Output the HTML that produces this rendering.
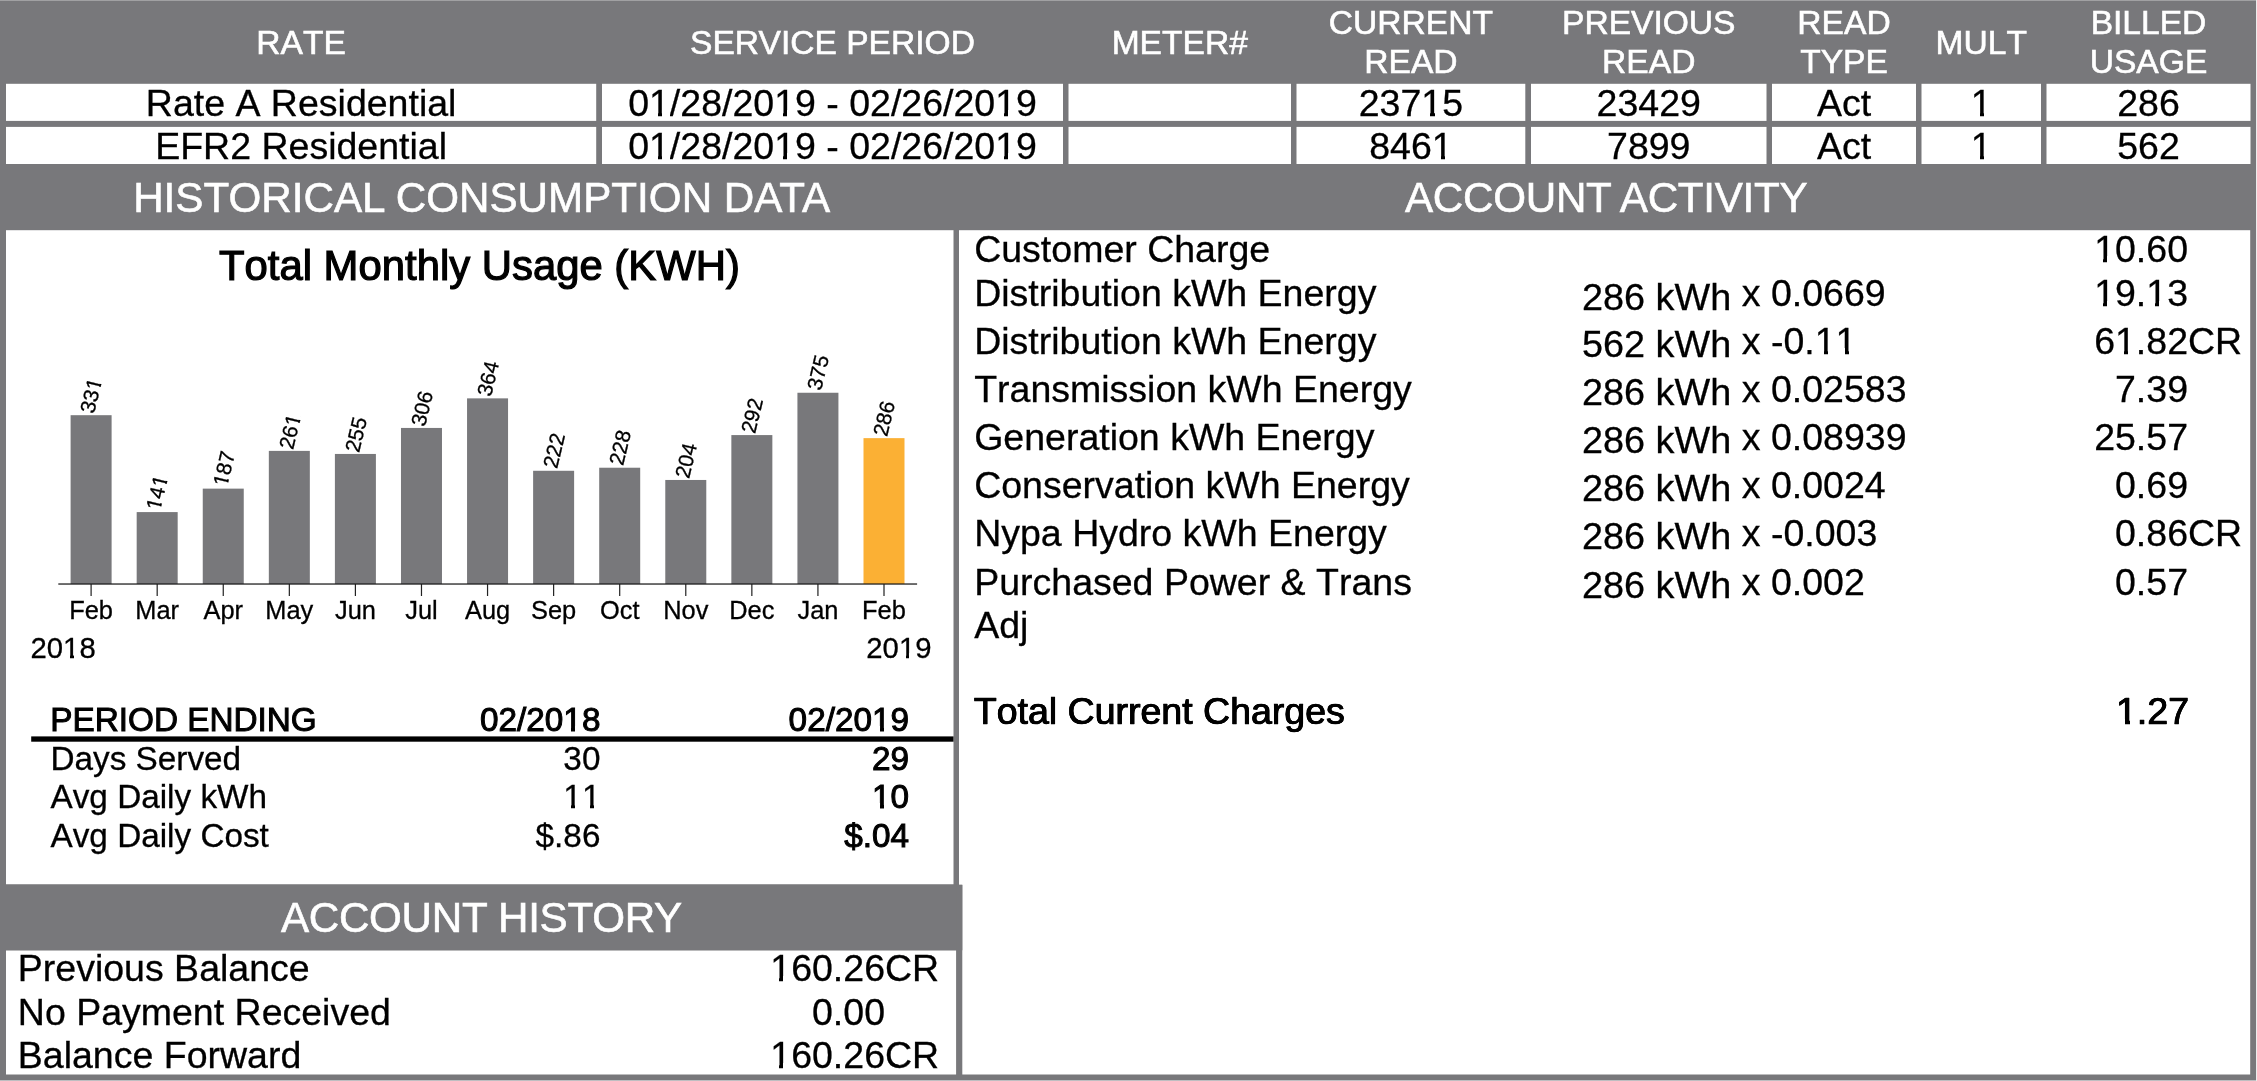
<!DOCTYPE html>
<html><head><meta charset="utf-8"><title>Bill</title><style>
html,body{margin:0;padding:0;}
html{overflow:hidden;width:2257px;height:1081px;}
body{width:2257px;height:1081px;background:#78787b;position:relative;overflow:hidden;
 font-family:"Liberation Sans",sans-serif;color:#000;}
.b{position:absolute;background:#fff;}
.t{position:absolute;white-space:nowrap;line-height:1;-webkit-text-stroke:0.3px #000;font-kerning:none;}
#wrap{position:absolute;left:0;top:0;width:2257px;height:1081px;will-change:transform;overflow:hidden;}
.o{position:relative;}
.o::before,.o::after{content:"";position:absolute;top:0.765em;height:0.195em;background:#fff;}
.o::before{left:0.01em;width:calc(0.2415em - var(--sw,0.45px));}
.o::after{left:calc(0.340em + var(--sw,0.45px));right:0;}
.c{text-align:center;}
.r{text-align:right;}
.w{color:#fff;-webkit-text-stroke:0.6px #fff;font-kerning:normal;}
.hk{font-kerning:none;}
.sb{-webkit-text-stroke:1.0px #000;--sw:0.6px;}
.sb2{--sw:0.85px;-webkit-text-stroke:0.7px #000;text-shadow:0.4px 0 #000,-0.4px 0 #000;font-kerning:none;}
.tb{-webkit-text-stroke:1.2px #000;font-kerning:none;}
</style></head>
<body><div id="wrap">
<svg style="position:absolute;left:0;top:0" width="2257" height="1081" viewBox="0 0 2257 1081"><rect x="6" y="83.8" width="590.2" height="37.1" fill="#fff"/>
<rect x="6" y="126.9" width="590.2" height="37.1" fill="#fff"/>
<rect x="602" y="83.8" width="461" height="37.1" fill="#fff"/>
<rect x="602" y="126.9" width="461" height="37.1" fill="#fff"/>
<rect x="1068.5" y="83.8" width="222.5" height="37.1" fill="#fff"/>
<rect x="1068.5" y="126.9" width="222.5" height="37.1" fill="#fff"/>
<rect x="1296.5" y="83.8" width="228.8" height="37.1" fill="#fff"/>
<rect x="1296.5" y="126.9" width="228.8" height="37.1" fill="#fff"/>
<rect x="1531" y="83.8" width="235.5" height="37.1" fill="#fff"/>
<rect x="1531" y="126.9" width="235.5" height="37.1" fill="#fff"/>
<rect x="1772" y="83.8" width="144" height="37.1" fill="#fff"/>
<rect x="1772" y="126.9" width="144" height="37.1" fill="#fff"/>
<rect x="1921.5" y="83.8" width="119.5" height="37.1" fill="#fff"/>
<rect x="1921.5" y="126.9" width="119.5" height="37.1" fill="#fff"/>
<rect x="2046.5" y="83.8" width="204.0" height="37.1" fill="#fff"/>
<rect x="2046.5" y="126.9" width="204.0" height="37.1" fill="#fff"/>
<rect x="6" y="230.2" width="947.5" height="654.1" fill="#fff"/>
<rect x="959" y="230.2" width="1291.2" height="844.3" fill="#fff"/>
<rect x="6" y="950.3" width="950.3" height="124.2" fill="#fff"/>
<rect x="0" y="884.8" width="962.3" height="65.5" fill="#78787b"/>
<rect x="956.3" y="884.8" width="6.0" height="190.2" fill="#78787b"/>
<rect x="70.60" y="415.19" width="41.0" height="168.81" fill="#78787b"/>
<rect x="90.50" y="584" width="1.2" height="12" fill="#222"/>
<rect x="136.68" y="512.09" width="41.0" height="71.91" fill="#78787b"/>
<rect x="156.58" y="584" width="1.2" height="12" fill="#222"/>
<rect x="202.75" y="488.63" width="41.0" height="95.37" fill="#78787b"/>
<rect x="222.65" y="584" width="1.2" height="12" fill="#222"/>
<rect x="268.83" y="450.89" width="41.0" height="133.11" fill="#78787b"/>
<rect x="288.73" y="584" width="1.2" height="12" fill="#222"/>
<rect x="334.90" y="453.95" width="41.0" height="130.05" fill="#78787b"/>
<rect x="354.80" y="584" width="1.2" height="12" fill="#222"/>
<rect x="400.98" y="427.94" width="41.0" height="156.06" fill="#78787b"/>
<rect x="420.88" y="584" width="1.2" height="12" fill="#222"/>
<rect x="467.05" y="398.36" width="41.0" height="185.64" fill="#78787b"/>
<rect x="486.95" y="584" width="1.2" height="12" fill="#222"/>
<rect x="533.12" y="470.78" width="41.0" height="113.22" fill="#78787b"/>
<rect x="553.02" y="584" width="1.2" height="12" fill="#222"/>
<rect x="599.20" y="467.72" width="41.0" height="116.28" fill="#78787b"/>
<rect x="619.10" y="584" width="1.2" height="12" fill="#222"/>
<rect x="665.28" y="479.96" width="41.0" height="104.04" fill="#78787b"/>
<rect x="685.18" y="584" width="1.2" height="12" fill="#222"/>
<rect x="731.35" y="435.08" width="41.0" height="148.92" fill="#78787b"/>
<rect x="751.25" y="584" width="1.2" height="12" fill="#222"/>
<rect x="797.43" y="392.75" width="41.0" height="191.25" fill="#78787b"/>
<rect x="817.33" y="584" width="1.2" height="12" fill="#222"/>
<rect x="863.50" y="438.14" width="41.0" height="145.86" fill="#fbb034"/>
<rect x="883.40" y="584" width="1.2" height="12" fill="#222"/>
<rect x="58.3" y="583.4" width="858.8000000000001" height="1.25" fill="#1a1a1a"/>
<rect x="31.2" y="736.4" width="922.3" height="5.3" fill="#000"/>
<rect x="0" y="0" width="2257" height="1" fill="#a1a1a3"/>
<rect x="0" y="1080" width="2257" height="1" fill="#bebec1"/>
<rect x="2256" y="0" width="1" height="1081" fill="#ececec"/></svg>
<div class="t w hk c" style="left:-698.9px;width:2000px;top:25.96px;font-size:33.6px;">RATE</div>
<div class="t w c" style="left:-167.5px;width:2000px;top:25.96px;font-size:33.6px;">SERVICE PERIOD</div>
<div class="t w c" style="left:179.75px;width:2000px;top:25.96px;font-size:33.6px;">METER#</div>
<div class="t w c" style="left:410.9000000000001px;width:2000px;top:6.36px;font-size:33.6px;">CURRENT</div>
<div class="t w c" style="left:410.9000000000001px;width:2000px;top:44.56px;font-size:33.6px;">READ</div>
<div class="t w c" style="left:648.75px;width:2000px;top:6.36px;font-size:33.6px;">PREVIOUS</div>
<div class="t w c" style="left:648.75px;width:2000px;top:44.56px;font-size:33.6px;">READ</div>
<div class="t w c" style="left:844.0px;width:2000px;top:6.36px;font-size:33.6px;">READ</div>
<div class="t w c" style="left:844.0px;width:2000px;top:44.56px;font-size:33.6px;">TYPE</div>
<div class="t w hk c" style="left:981.25px;width:2000px;top:25.96px;font-size:33.6px;">MULT</div>
<div class="t w c" style="left:1148.5px;width:2000px;top:6.36px;font-size:33.6px;">BILLED</div>
<div class="t w c" style="left:1148.5px;width:2000px;top:44.56px;font-size:33.6px;">USAGE</div>
<div class="t  c" style="left:-698.9px;width:2000px;top:84.76px;font-size:37.5px;">Rate A Residential</div>
<div class="t  c" style="left:-167.5px;width:2000px;top:84.76px;font-size:37.5px;">0<span class="o">1</span>/28/20<span class="o">1</span>9 - 02/26/20<span class="o">1</span>9</div>
<div class="t  c" style="left:410.9000000000001px;width:2000px;top:84.76px;font-size:37.5px;">237<span class="o">1</span>5</div>
<div class="t  c" style="left:648.75px;width:2000px;top:84.76px;font-size:37.5px;">23429</div>
<div class="t  c" style="left:844.0px;width:2000px;top:84.76px;font-size:37.5px;">Act</div>
<div class="t  c" style="left:981.25px;width:2000px;top:84.76px;font-size:37.5px;"><span class="o">1</span></div>
<div class="t  c" style="left:1148.5px;width:2000px;top:84.76px;font-size:37.5px;">286</div>
<div class="t  c" style="left:-698.9px;width:2000px;top:127.76px;font-size:37.5px;">EFR2 Residential</div>
<div class="t  c" style="left:-167.5px;width:2000px;top:127.76px;font-size:37.5px;">0<span class="o">1</span>/28/20<span class="o">1</span>9 - 02/26/20<span class="o">1</span>9</div>
<div class="t  c" style="left:410.9000000000001px;width:2000px;top:127.76px;font-size:37.5px;">846<span class="o">1</span></div>
<div class="t  c" style="left:648.75px;width:2000px;top:127.76px;font-size:37.5px;">7899</div>
<div class="t  c" style="left:844.0px;width:2000px;top:127.76px;font-size:37.5px;">Act</div>
<div class="t  c" style="left:981.25px;width:2000px;top:127.76px;font-size:37.5px;"><span class="o">1</span></div>
<div class="t  c" style="left:1148.5px;width:2000px;top:127.76px;font-size:37.5px;">562</div>
<div class="t w c" style="left:-518.4px;width:2000px;top:176.98px;font-size:42.2px;">HISTORICAL CONSUMPTION DATA</div>
<div class="t w c" style="left:606.2px;width:2000px;top:176.98px;font-size:42.2px;letter-spacing:-0.3px;">ACCOUNT ACTIVITY</div>
<div class="t w c" style="left:-518.6px;width:2000px;top:897.08px;font-size:42.2px;letter-spacing:-0.3px;">ACCOUNT HISTORY</div>
<div class="t tb c" style="left:-520.6px;width:2000px;top:244.57px;font-size:41.85px;">Total Monthly Usage (KWH)</div>
<div class="t  c" style="left:-908.9px;width:2000px;top:597.50px;font-size:25.4px;">Feb</div>
<div class="t" style="left:97.40px;top:414.89px;font-size:21px;transform-origin:0 0;transform:rotate(-76.8deg) translate(0,-100%);">33<span class="o">1</span></div>
<div class="t  c" style="left:-842.825px;width:2000px;top:597.50px;font-size:25.4px;">Mar</div>
<div class="t" style="left:163.48px;top:511.79px;font-size:21px;transform-origin:0 0;transform:rotate(-76.8deg) translate(0,-100%);"><span class="o">1</span>4<span class="o">1</span></div>
<div class="t  c" style="left:-776.75px;width:2000px;top:597.50px;font-size:25.4px;">Apr</div>
<div class="t" style="left:229.55px;top:488.33px;font-size:21px;transform-origin:0 0;transform:rotate(-76.8deg) translate(0,-100%);"><span class="o">1</span>87</div>
<div class="t  c" style="left:-710.675px;width:2000px;top:597.50px;font-size:25.4px;">May</div>
<div class="t" style="left:295.63px;top:450.59px;font-size:21px;transform-origin:0 0;transform:rotate(-76.8deg) translate(0,-100%);">26<span class="o">1</span></div>
<div class="t  c" style="left:-644.6px;width:2000px;top:597.50px;font-size:25.4px;">Jun</div>
<div class="t" style="left:361.70px;top:453.65px;font-size:21px;transform-origin:0 0;transform:rotate(-76.8deg) translate(0,-100%);">255</div>
<div class="t  c" style="left:-578.525px;width:2000px;top:597.50px;font-size:25.4px;">Jul</div>
<div class="t" style="left:427.78px;top:427.64px;font-size:21px;transform-origin:0 0;transform:rotate(-76.8deg) translate(0,-100%);">306</div>
<div class="t  c" style="left:-512.4499999999999px;width:2000px;top:597.50px;font-size:25.4px;">Aug</div>
<div class="t" style="left:493.85px;top:398.06px;font-size:21px;transform-origin:0 0;transform:rotate(-76.8deg) translate(0,-100%);">364</div>
<div class="t  c" style="left:-446.375px;width:2000px;top:597.50px;font-size:25.4px;">Sep</div>
<div class="t" style="left:559.92px;top:470.48px;font-size:21px;transform-origin:0 0;transform:rotate(-76.8deg) translate(0,-100%);">222</div>
<div class="t  c" style="left:-380.29999999999995px;width:2000px;top:597.50px;font-size:25.4px;">Oct</div>
<div class="t" style="left:626.00px;top:467.42px;font-size:21px;transform-origin:0 0;transform:rotate(-76.8deg) translate(0,-100%);">228</div>
<div class="t  c" style="left:-314.2249999999999px;width:2000px;top:597.50px;font-size:25.4px;">Nov</div>
<div class="t" style="left:692.08px;top:479.66px;font-size:21px;transform-origin:0 0;transform:rotate(-76.8deg) translate(0,-100%);">204</div>
<div class="t  c" style="left:-248.14999999999998px;width:2000px;top:597.50px;font-size:25.4px;">Dec</div>
<div class="t" style="left:758.15px;top:434.78px;font-size:21px;transform-origin:0 0;transform:rotate(-76.8deg) translate(0,-100%);">292</div>
<div class="t  c" style="left:-182.07499999999993px;width:2000px;top:597.50px;font-size:25.4px;">Jan</div>
<div class="t" style="left:824.23px;top:392.45px;font-size:21px;transform-origin:0 0;transform:rotate(-76.8deg) translate(0,-100%);">375</div>
<div class="t  c" style="left:-115.99999999999989px;width:2000px;top:597.50px;font-size:25.4px;">Feb</div>
<div class="t" style="left:890.30px;top:437.84px;font-size:21px;transform-origin:0 0;transform:rotate(-76.8deg) translate(0,-100%);">286</div>
<div class="t " style="left:30.5px;top:633.00px;font-size:29.3px;">20<span class="o">1</span>8</div>
<div class="t  r" style="left:-1068.5px;width:2000px;top:633.00px;font-size:29.3px;">20<span class="o">1</span>9</div>
<div class="t sb" style="left:50.3px;top:702.61px;font-size:33.3px;">PERIOD ENDING</div>
<div class="t sb r" style="left:-1399.6px;width:2000px;top:702.61px;font-size:33.3px;">02/20<span class="o">1</span>8</div>
<div class="t sb r" style="left:-1091.0px;width:2000px;top:702.61px;font-size:33.3px;">02/20<span class="o">1</span>9</div>
<div class="t " style="left:50.5px;top:742.11px;font-size:33.3px;">Days Served</div>
<div class="t  r" style="left:-1399.6px;width:2000px;top:742.11px;font-size:33.3px;">30</div>
<div class="t sb r" style="left:-1091.0px;width:2000px;top:742.11px;font-size:33.3px;">29</div>
<div class="t " style="left:50.5px;top:779.61px;font-size:33.3px;">Avg Daily kWh</div>
<div class="t  r" style="left:-1399.6px;width:2000px;top:779.61px;font-size:33.3px;"><span class="o">1</span><span class="o">1</span></div>
<div class="t sb r" style="left:-1091.0px;width:2000px;top:779.61px;font-size:33.3px;"><span class="o">1</span>0</div>
<div class="t " style="left:50.5px;top:819.01px;font-size:33.3px;">Avg Daily Cost</div>
<div class="t  r" style="left:-1399.6px;width:2000px;top:819.01px;font-size:33.3px;">$.86</div>
<div class="t sb r" style="left:-1091.0px;width:2000px;top:819.01px;font-size:33.3px;">$.04</div>
<div class="t " style="left:17.8px;top:950.16px;font-size:37.5px;">Previous Balance</div>
<div class="t  r" style="left:-1115px;width:2000px;top:950.16px;font-size:37.5px;"><span class="o">1</span>60.26</div>
<div class="t " style="left:885px;top:950.16px;font-size:37.5px;">CR</div>
<div class="t " style="left:17.8px;top:994.36px;font-size:37.5px;">No Payment Received</div>
<div class="t  r" style="left:-1115px;width:2000px;top:994.36px;font-size:37.5px;">0.00</div>
<div class="t " style="left:17.8px;top:1037.06px;font-size:37.5px;">Balance Forward</div>
<div class="t  r" style="left:-1115px;width:2000px;top:1037.06px;font-size:37.5px;"><span class="o">1</span>60.26</div>
<div class="t " style="left:885px;top:1037.06px;font-size:37.5px;">CR</div>
<div class="t " style="left:974.2px;top:230.56px;font-size:37.5px;">Customer Charge</div>
<div class="t  r" style="left:188px;width:2000px;top:230.56px;font-size:37.5px;"><span class="o">1</span>0.60</div>
<div class="t " style="left:974.2px;top:275.16px;font-size:37.5px;">Distribution kWh Energy</div>
<div class="t " style="left:1582.0px;top:278.50px;font-size:37.8px;">286 kWh</div>
<div class="t " style="left:1741.8px;top:275.16px;font-size:37.5px;">x 0.0669</div>
<div class="t  r" style="left:188px;width:2000px;top:275.16px;font-size:37.5px;"><span class="o">1</span>9.<span class="o">1</span>3</div>
<div class="t " style="left:974.2px;top:322.56px;font-size:37.5px;">Distribution kWh Energy</div>
<div class="t " style="left:1582.0px;top:325.90px;font-size:37.8px;">562 kWh</div>
<div class="t " style="left:1741.8px;top:322.56px;font-size:37.5px;">x -0.<span class="o">1</span><span class="o">1</span></div>
<div class="t  r" style="left:188px;width:2000px;top:322.56px;font-size:37.5px;">6<span class="o">1</span>.82</div>
<div class="t " style="left:2188px;top:322.56px;font-size:37.5px;">CR</div>
<div class="t " style="left:974.2px;top:370.66px;font-size:37.5px;">Transmission kWh Energy</div>
<div class="t " style="left:1582.0px;top:374.00px;font-size:37.8px;">286 kWh</div>
<div class="t " style="left:1741.8px;top:370.66px;font-size:37.5px;">x 0.02583</div>
<div class="t  r" style="left:188px;width:2000px;top:370.66px;font-size:37.5px;">7.39</div>
<div class="t " style="left:974.2px;top:418.76px;font-size:37.5px;">Generation kWh Energy</div>
<div class="t " style="left:1582.0px;top:422.10px;font-size:37.8px;">286 kWh</div>
<div class="t " style="left:1741.8px;top:418.76px;font-size:37.5px;">x 0.08939</div>
<div class="t  r" style="left:188px;width:2000px;top:418.76px;font-size:37.5px;">25.57</div>
<div class="t " style="left:974.2px;top:466.76px;font-size:37.5px;">Conservation kWh Energy</div>
<div class="t " style="left:1582.0px;top:470.10px;font-size:37.8px;">286 kWh</div>
<div class="t " style="left:1741.8px;top:466.76px;font-size:37.5px;">x 0.0024</div>
<div class="t  r" style="left:188px;width:2000px;top:466.76px;font-size:37.5px;">0.69</div>
<div class="t " style="left:974.2px;top:514.86px;font-size:37.5px;">Nypa Hydro kWh Energy</div>
<div class="t " style="left:1582.0px;top:518.20px;font-size:37.8px;">286 kWh</div>
<div class="t " style="left:1741.8px;top:514.86px;font-size:37.5px;">x -0.003</div>
<div class="t  r" style="left:188px;width:2000px;top:514.86px;font-size:37.5px;">0.86</div>
<div class="t " style="left:2188px;top:514.86px;font-size:37.5px;">CR</div>
<div class="t " style="left:974.2px;top:563.86px;font-size:37.5px;">Purchased Power &amp; Trans</div>
<div class="t " style="left:1582.0px;top:567.20px;font-size:37.8px;">286 kWh</div>
<div class="t " style="left:1741.8px;top:563.86px;font-size:37.5px;">x 0.002</div>
<div class="t  r" style="left:188px;width:2000px;top:563.86px;font-size:37.5px;">0.57</div>
<div class="t " style="left:974.2px;top:606.76px;font-size:37.5px;">Adj</div>
<div class="t sb2" style="left:973.8px;top:693.46px;font-size:37.5px;">Total Current Charges</div>
<div class="t sb2 r" style="left:189px;width:2000px;top:693.26px;font-size:37.5px;"><span class="o">1</span>.27</div>
</div></body></html>
